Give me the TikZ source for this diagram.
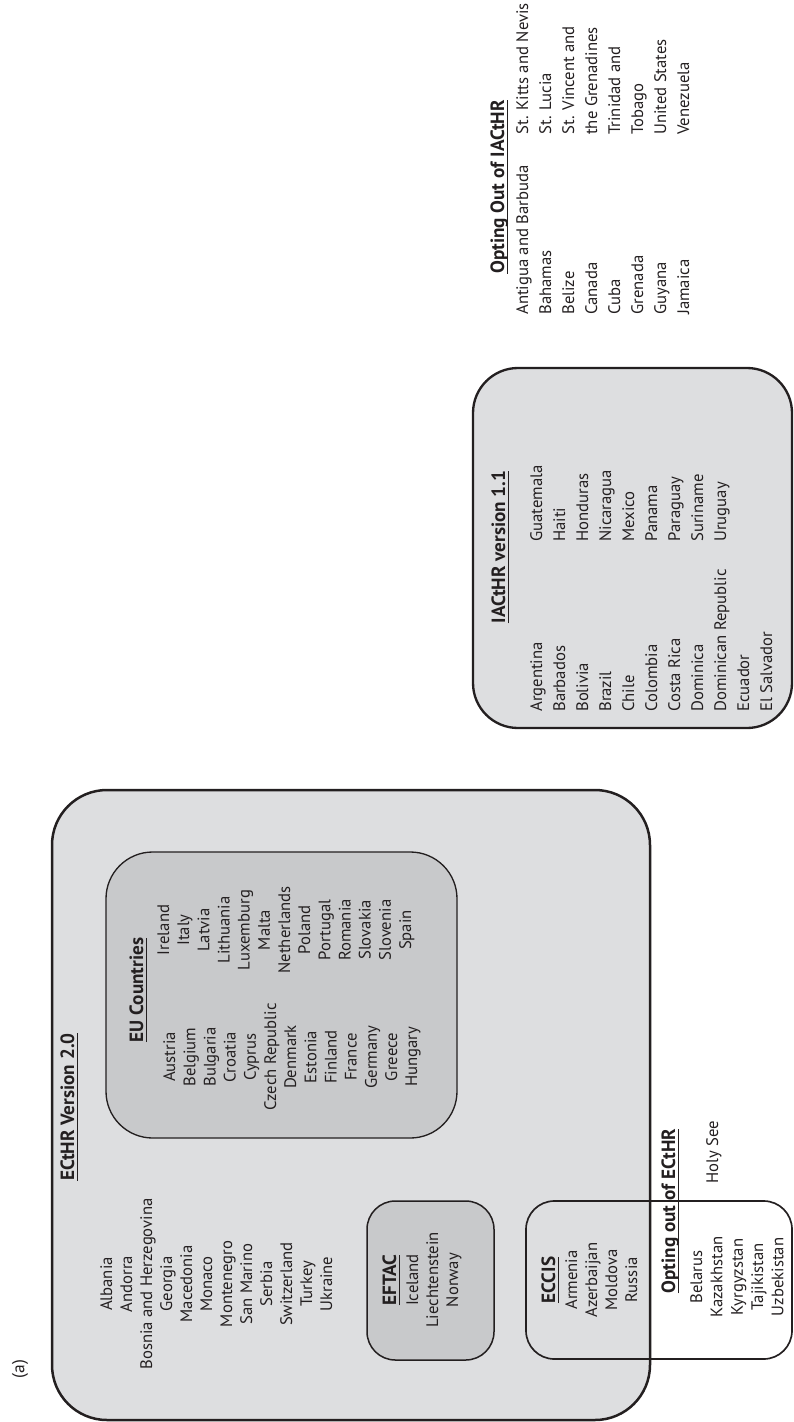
\documentclass[tikz,border=0pt]{standalone}
\usepackage{fontspec}
\setmainfont{PT Sans}
\usepackage{tikz}

\definecolor{ink}{RGB}{35,31,32}
\definecolor{outerfill}{RGB}{221,222,224}
\definecolor{innerfill}{RGB}{200,201,203}
% underlined heading text
\newcommand{\ulhead}[1]{\setbox0=\hbox{#1}\rlap{\vrule height -1.5pt depth 2.2pt width \wd0}\box0}

\begin{document}
\begin{tikzpicture}[x=0.6pt,y=-0.6pt,
  bigbox/.style={draw=ink,line width=1.5pt,fill=outerfill},
  subbox/.style={draw=ink,line width=0.8pt,fill=innerfill},
  openbox/.style={draw=ink,line width=1pt},
  hdr/.style={rotate=90,inner sep=0pt,anchor=base,text=ink,font=\fontsize{11.5pt}{13pt}\selectfont\bfseries},
  list/.style={rotate=90,inner sep=0pt,anchor=north,align=center,text=ink,font=\fontsize{10pt}{12pt}\selectfont},
  amlist/.style={rotate=90,inner sep=0pt,anchor=north west,align=left,text=ink,font=\fontsize{10pt}{13.8pt}\selectfont}]
  \useasboundingbox (0,0) rectangle (793,1422);

  % boxes
  \draw[bigbox,rounded corners=33pt] (52,790) rectangle (650,1420);
  \draw[subbox,rounded corners=28pt] (106,852) rectangle (457,1138);
  \draw[subbox,line width=0.9pt,rounded corners=17pt] (367,1201) rectangle (494,1360);
  \draw[openbox,rounded corners=17pt] (526,1201) rectangle (792,1359);
  \draw[bigbox,line width=1.4pt,rounded corners=27pt] (473,368) rectangle (792,728);

  \node[rotate=90,text=ink,font=\fontsize{10.5pt}{12pt}\selectfont] (panel) at (20,1369) {(a)};

  % ECtHR
  \node[hdr] (ecthrhead) at (74,1107) {\ulhead{ECtHR Version 2.0}};
  \node[list] (others) at (100,1284) {Albania\\Andorra\\Bosnia and Herzegovina\\Georgia\\Macedonia\\Monaco\\Montenegro\\San Marino\\Serbia\\Switzerland\\Turkey\\Ukraine};

  \node[hdr] (euhead) at (143,990) {\ulhead{EU Countries}};
  \node[list,font=\fontsize{10pt}{12.1pt}\selectfont] (euleft) at (163,1057) {Austria\\Belgium\\Bulgaria\\Croatia\\Cyprus\\Czech Republic\\Denmark\\Estonia\\Finland\\France\\Germany\\Greece\\Hungary};
  \node[list,font=\fontsize{10pt}{12.1pt}\selectfont] (euright) at (157,930) {Ireland\\Italy\\Latvia\\Lithuania\\Luxemburg\\Malta\\Netherlands\\Poland\\Portugal\\Romania\\Slovakia\\Slovenia\\Spain};

  \node[hdr] (eftachead) at (396,1280) {\ulhead{EFTAC}};
  \node[list] (eftac) at (406,1280) {Iceland\\Liechtenstein\\Norway};

  \node[hdr] (eccishead) at (555,1280) {\ulhead{ECCIS}};
  \node[list] (eccis) at (565,1280) {Armenia\\Azerbaijan\\Moldova\\Russia};

  \node[hdr] (optehead) at (675,1211) {\ulhead{Opting out of ECtHR}};
  \node[list,font=\fontsize{10pt}{12.2pt}\selectfont] (opte) at (690,1277) {Belarus\\Kazakhstan\\Kyrgyzstan\\Tajikistan\\Uzbekistan};
  \node[rotate=90,inner sep=0pt,anchor=base,text=ink,font=\fontsize{10pt}{12pt}\selectfont] (holysee) at (718,1152) {Holy See};

  % IACtHR
  \node[hdr] (iahead) at (505,547) {\ulhead{IACtHR version 1.1}};
  \node[amlist] (ialeft) at (530,712) {Argentina\\Barbados\\Bolivia\\Brazil\\Chile\\Colombia\\Costa Rica\\Dominica\\Dominican Republic\\Ecuador\\El Salvador};
  \node[amlist] (iaright) at (530,542) {Guatemala\\Haiti\\Honduras\\Nicaragua\\Mexico\\Panama\\Paraguay\\Suriname\\Uruguay};

  \node[hdr] (optihead) at (504,187) {\ulhead{Opting Out of IACtHR}};
  \node[amlist] (optileft) at (516,315) {Antigua and Barbuda\\Bahamas\\Belize\\Canada\\Cuba\\Grenada\\Guyana\\Jamaica};
  \node[amlist] (optiright) at (516,135) {St. Kitts and Nevis\\St. Lucia\\St. Vincent and\\the Grenadines\\Trinidad and\\Tobago\\United States\\Venezuela};
\end{tikzpicture}
\end{document}
